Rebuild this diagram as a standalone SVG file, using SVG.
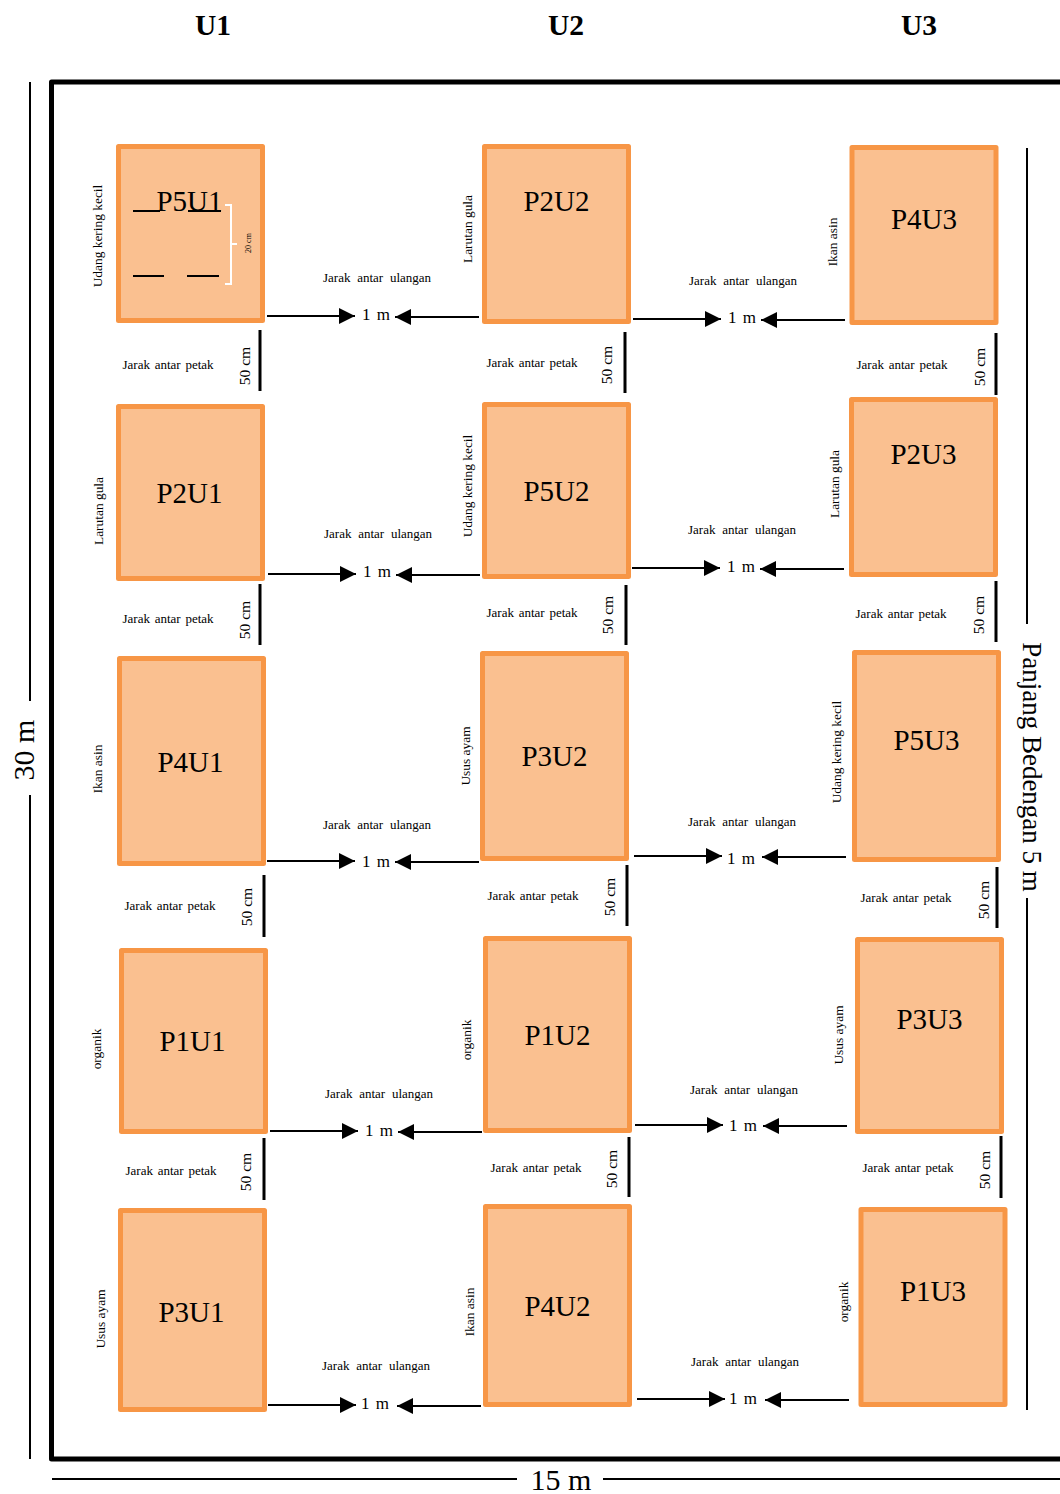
<svg xmlns="http://www.w3.org/2000/svg" width="1060" height="1494" viewBox="0 0 1060 1494">
<style>
text{font-family:"Liberation Serif","Times New Roman",serif;fill:#000}
.box{fill:#fac090;stroke:#f79646;stroke-width:5;stroke-linejoin:round}
.p{font-size:29px;text-anchor:middle}
.u{font-size:29.500px;font-weight:bold;text-anchor:middle}
.big{font-size:30px;text-anchor:middle}
.lab{font-size:13.400px;text-anchor:middle}
.gap{font-size:13px;text-anchor:middle;word-spacing:1.500px}
.gu{font-size:13px;text-anchor:middle;word-spacing:3.500px}
.cm{font-size:15.500px;text-anchor:middle}
.m{font-size:17px;word-spacing:2px}
.ln{stroke:#000;stroke-width:2;fill:none}
.th{stroke:#000;stroke-width:3;fill:none}
.ar{stroke:#000;stroke-width:2;fill:none;marker-end:url(#a)}
</style>
<defs>
<marker id="a" markerUnits="userSpaceOnUse" markerWidth="16" markerHeight="16" refX="16" refY="8" orient="auto"><path d="M0 0L16 8L0 16Z" fill="#000"/></marker>
</defs>
<g id="frame"><path d="M1062 82H51.500V1459H1062" stroke="#000" stroke-width="5" fill="none" stroke-linejoin="round"/></g>
<g id="headers"><text class="u" x="213" y="35">U1</text><text class="u" x="566" y="35">U2</text><text class="u" x="919" y="35">U3</text></g>
<g id="dimensions">
<path class="ln" d="M30 82V701M30 795V1459M52 1479H517M603 1479H1060M1027 148V624M1027 898V1410"/>
<text class="big" transform="translate(34 750) rotate(-90)">30 m</text>
<text class="big" x="561" y="1490">15 m</text>
<text font-size="27" text-anchor="middle" transform="translate(1023 767) rotate(90)">Panjang Bedengan 5 m</text>
</g>
<g id="P5U1"><rect class="box" x="118.500" y="146.500" width="144" height="174"/><text class="p" x="189.500" y="211">P5U1</text><path class="ln" d="M133 211H160M188 211H221M133 276H164M187 276H219"/><path d="M225 205H231V284H225M231 244H237" fill="none" stroke="#fff" stroke-width="2"/><text font-size="8" text-anchor="middle" transform="translate(251 243) rotate(-90)">20 cm</text><text class="lab" transform="translate(102 236) rotate(-90)">Udang kering kecil</text></g>
<g id="P2U1"><rect class="box" x="118.500" y="406.500" width="144" height="172"/><text class="p" x="189.500" y="503">P2U1</text><text class="lab" transform="translate(103 511) rotate(-90)">Larutan gula</text></g>
<g id="P4U1"><rect class="box" x="119.500" y="658.500" width="144" height="205"/><text class="p" x="190.500" y="772">P4U1</text><text class="lab" transform="translate(102 769) rotate(-90)">Ikan asin</text></g>
<g id="P1U1"><rect class="box" x="121.500" y="950.500" width="144" height="181"/><text class="p" x="192.500" y="1051">P1U1</text><text class="lab" transform="translate(101 1049) rotate(-90)">organik</text></g>
<g id="P3U1"><rect class="box" x="120.500" y="1210.500" width="144" height="199"/><text class="p" x="191.500" y="1322">P3U1</text><text class="lab" transform="translate(105 1319) rotate(-90)">Usus ayam</text></g>
<g id="P2U2"><rect class="box" x="484.500" y="146.500" width="144" height="175"/><text class="p" x="556.500" y="211">P2U2</text><text class="lab" transform="translate(472 229) rotate(-90)">Larutan gula</text></g>
<g id="P5U2"><rect class="box" x="484.500" y="404.500" width="144" height="172"/><text class="p" x="556.500" y="501">P5U2</text><text class="lab" transform="translate(472 486) rotate(-90)">Udang kering kecil</text></g>
<g id="P3U2"><rect class="box" x="482.500" y="653.500" width="144" height="205"/><text class="p" x="554.500" y="766">P3U2</text><text class="lab" transform="translate(470 756) rotate(-90)">Usus ayam</text></g>
<g id="P1U2"><rect class="box" x="485.500" y="938.500" width="144" height="192"/><text class="p" x="557.500" y="1045">P1U2</text><text class="lab" transform="translate(471 1040) rotate(-90)">organik</text></g>
<g id="P4U2"><rect class="box" x="485.500" y="1206.500" width="144" height="198"/><text class="p" x="557.500" y="1316">P4U2</text><text class="lab" transform="translate(474 1312) rotate(-90)">Ikan asin</text></g>
<g id="P4U3"><rect class="box" x="852" y="147.500" width="144" height="175"/><text class="p" x="924" y="229">P4U3</text><text class="lab" transform="translate(837 242) rotate(-90)">Ikan asin</text></g>
<g id="P2U3"><rect class="box" x="851.500" y="399.500" width="144" height="175"/><text class="p" x="923.500" y="464">P2U3</text><text class="lab" transform="translate(839 484) rotate(-90)">Larutan gula</text></g>
<g id="P5U3"><rect class="box" x="854.500" y="652.500" width="144" height="207"/><text class="p" x="926.500" y="750">P5U3</text><text class="lab" transform="translate(841 752) rotate(-90)">Udang kering kecil</text></g>
<g id="P3U3"><rect class="box" x="857.500" y="939.500" width="144" height="192"/><text class="p" x="929.500" y="1029">P3U3</text><text class="lab" transform="translate(843 1035) rotate(-90)">Usus ayam</text></g>
<g id="P1U3"><rect class="box" x="861" y="1209.500" width="144" height="195"/><text class="p" x="933" y="1301">P1U3</text><text class="lab" transform="translate(848 1302) rotate(-90)">organik</text></g>
<g id="connectors">
<path class="ar" d="M267 316H355"/><path class="ar" d="M479 317H395"/>
<path class="ar" d="M268 574H356"/><path class="ar" d="M480 575H396"/>
<path class="ar" d="M267 861H355"/><path class="ar" d="M479 862H395"/>
<path class="ar" d="M270 1131H358"/><path class="ar" d="M482 1132H398"/>
<path class="ar" d="M268 1405H356"/><path class="ar" d="M481 1406H397"/>
<path class="ar" d="M633 319H721"/><path class="ar" d="M845 320H761"/>
<path class="ar" d="M632 568H720"/><path class="ar" d="M844 569H760"/>
<path class="ar" d="M634 856H722"/><path class="ar" d="M846 857H762"/>
<path class="ar" d="M635 1125H723"/><path class="ar" d="M847 1126H763"/>
<path class="ar" d="M637 1399H725"/><path class="ar" d="M849 1400H765"/>
<path class="th" d="M260 330V391M260 584V645M264 875V937M264 1138V1200M625 332V393M626 585V645M627 865V926M629 1137V1197M996 333V395M996 581V642M997 867V928M1001 1136V1198"/>
</g>
<g id="labels">
<text class="m" x="362" y="320">1 m</text><text class="m" x="363" y="577">1 m</text><text class="m" x="362" y="867">1 m</text><text class="m" x="365" y="1136">1 m</text><text class="m" x="361" y="1409">1 m</text>
<text class="m" x="728" y="323">1 m</text><text class="m" x="727" y="572">1 m</text><text class="m" x="727" y="864">1 m</text><text class="m" x="729" y="1131">1 m</text><text class="m" x="729" y="1404">1 m</text>
<text class="gu" x="377" y="282">Jarak antar ulangan</text><text class="gu" x="378" y="538">Jarak antar ulangan</text><text class="gu" x="377" y="829">Jarak antar ulangan</text><text class="gu" x="379" y="1098">Jarak antar ulangan</text><text class="gu" x="376" y="1370">Jarak antar ulangan</text>
<text class="gu" x="743" y="285">Jarak antar ulangan</text><text class="gu" x="742" y="534">Jarak antar ulangan</text><text class="gu" x="742" y="826">Jarak antar ulangan</text><text class="gu" x="744" y="1094">Jarak antar ulangan</text><text class="gu" x="745" y="1366">Jarak antar ulangan</text>
<text class="gap" x="168" y="369">Jarak antar petak</text><text class="gap" x="168" y="623">Jarak antar petak</text><text class="gap" x="170" y="910">Jarak antar petak</text><text class="gap" x="171" y="1175">Jarak antar petak</text>
<text class="gap" x="532" y="367">Jarak antar petak</text><text class="gap" x="532" y="617">Jarak antar petak</text><text class="gap" x="533" y="900">Jarak antar petak</text><text class="gap" x="536" y="1172">Jarak antar petak</text>
<text class="gap" x="902" y="369">Jarak antar petak</text><text class="gap" x="901" y="618">Jarak antar petak</text><text class="gap" x="906" y="902">Jarak antar petak</text><text class="gap" x="908" y="1172">Jarak antar petak</text>
<text class="cm" transform="translate(250 366) rotate(-90)">50 cm</text><text class="cm" transform="translate(250 620) rotate(-90)">50 cm</text><text class="cm" transform="translate(252 907) rotate(-90)">50 cm</text><text class="cm" transform="translate(251 1172) rotate(-90)">50 cm</text>
<text class="cm" transform="translate(612 365) rotate(-90)">50 cm</text><text class="cm" transform="translate(613 615) rotate(-90)">50 cm</text><text class="cm" transform="translate(615 897) rotate(-90)">50 cm</text><text class="cm" transform="translate(617 1169) rotate(-90)">50 cm</text>
<text class="cm" transform="translate(985 367) rotate(-90)">50 cm</text><text class="cm" transform="translate(984 615) rotate(-90)">50 cm</text><text class="cm" transform="translate(989 900) rotate(-90)">50 cm</text><text class="cm" transform="translate(990 1170) rotate(-90)">50 cm</text>
</g>
</svg>
